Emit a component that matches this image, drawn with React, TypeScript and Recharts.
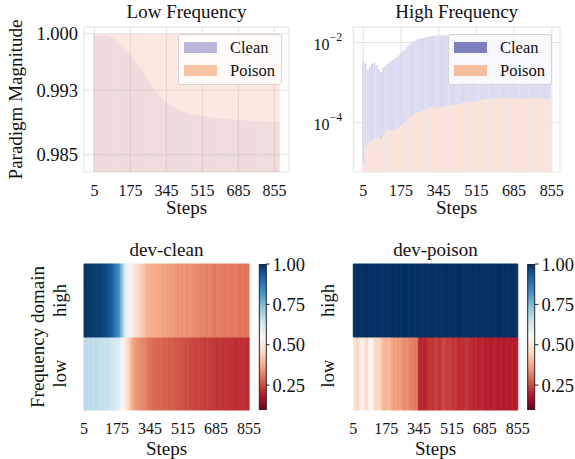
import React from 'react';
import {
  ComposedChart,
  Bar,
  XAxis,
  YAxis,
  CartesianGrid,
  ReferenceArea,
  Cell,
  Label
} from 'recharts';

const FONT = "'Liberation Serif', 'Times New Roman', serif";

// training steps (low-frequency run is a bit longer than the others)
const lowSteps = [
  5, 15, 25, 35, 45, 55, 65, 75, 85, 95, 105, 115, 125, 135, 145, 155, 165, 175, 185, 195, 205, 215,
  225, 235, 245, 255, 265, 275, 285, 295, 305, 315, 325, 335, 345, 355, 365, 375, 385, 395, 405, 415,
  425, 435, 445, 455, 465, 475, 485, 495, 505, 515, 525, 535, 545, 555, 565, 575, 585, 595, 605, 615,
  625, 635, 645, 655, 665, 675, 685, 695, 705, 715, 725, 735, 745, 755, 765, 775, 785, 795, 805, 815,
  825, 835, 845, 855, 865, 875
];
const highSteps = lowSteps.slice(0, 85);
const heatSteps = lowSteps.slice(0, 86);
const stepTicks = [5, 175, 345, 515, 685, 855];

// low frequency paradigm magnitude
const lowClean = [
  0.99985, 0.9998, 0.99978, 0.99975, 0.99972, 0.99975, 0.99978, 0.9997, 0.99955, 0.9994, 0.9992,
  0.99895, 0.9987, 0.9984, 0.99815, 0.9979, 0.99765, 0.9974, 0.9971, 0.99675, 0.9964, 0.996,
  0.99565, 0.9953, 0.9949, 0.9945, 0.99405, 0.99365, 0.9933, 0.99295, 0.9926, 0.99225, 0.992,
  0.9917, 0.99145, 0.9913, 0.9911, 0.99095, 0.9908, 0.99065, 0.99055, 0.99045, 0.99035, 0.99025,
  0.99015, 0.99005, 0.99, 0.98995, 0.9899, 0.98985, 0.9898, 0.98978, 0.98972, 0.9897, 0.98966,
  0.98963, 0.9896, 0.98958, 0.98955, 0.98952, 0.9895, 0.98947, 0.98944, 0.98942, 0.9894, 0.98937,
  0.98935, 0.98933, 0.98931, 0.98929, 0.98927, 0.98925, 0.98924, 0.98922, 0.98921, 0.9892, 0.98918,
  0.98917, 0.98916, 0.98915, 0.98914, 0.98913, 0.98912, 0.98911, 0.9891, 0.9891, 0.9891, 0.98909
];
const lowPoison = [
  0.99999, 0.99998, 0.99999, 1.0, 0.99999, 0.99998, 0.99999, 0.99999, 1.0, 0.99998, 0.99999,
  0.99999, 0.99998, 0.99999, 0.99999, 1.0, 0.99999, 0.99998, 0.99999, 0.99999, 0.99998, 0.99999,
  1.0, 0.99999, 0.99999, 0.99998, 0.99999, 1.0, 0.99999, 0.99998, 0.99999, 0.99999, 1.0, 0.99999,
  0.99998, 0.99999, 0.99999, 0.99999, 1.0, 0.99998, 0.99999, 0.99999, 0.99999, 0.99998, 1.0,
  0.99999, 0.99999, 0.99998, 0.99999, 0.99999, 1.0, 0.99999, 0.99998, 0.99999, 0.99999, 0.99999,
  1.0, 0.99998, 0.99999, 0.99999, 0.99999, 0.99998, 1.0, 0.99999, 0.99999, 0.99999, 0.99998,
  0.99999, 1.0, 0.99999, 0.99999, 0.99998, 0.99999, 0.99999, 1.0, 0.99999, 0.99998, 0.99999,
  0.99999, 0.99999, 1.0, 0.99998, 0.99999, 0.99999, 0.99999, 0.99998, 1.0, 0.99999
];

// high frequency paradigm magnitude (log scale)
const highClean = [
  3.55e-3, 3.0e-3, 2.1e-3, 2.5e-3, 3.0e-3, 3.2e-3, 2.75e-3, 2.2e-3, 1.85e-3, 2.35e-3, 2.6e-3,
  2.95e-3, 3.25e-3, 3.55e-3, 3.9e-3, 4.25e-3, 4.8e-3, 5.4e-3, 6.2e-3, 6.9e-3, 7.9e-3, 8.9e-3,
  1.0e-2, 1.1e-2, 1.17e-2, 1.23e-2, 1.29e-2, 1.32e-2, 1.35e-2, 1.41e-2, 1.45e-2, 1.46e-2, 1.48e-2,
  1.5e-2, 1.51e-2, 1.52e-2, 1.53e-2, 1.52e-2, 1.54e-2, 1.55e-2, 1.54e-2, 1.55e-2, 1.56e-2, 1.55e-2,
  1.56e-2, 1.57e-2, 1.56e-2, 1.57e-2, 1.58e-2, 1.57e-2, 1.58e-2, 1.58e-2, 1.59e-2, 1.58e-2, 1.59e-2,
  1.59e-2, 1.6e-2, 1.59e-2, 1.6e-2, 1.6e-2, 1.61e-2, 1.6e-2, 1.61e-2, 1.61e-2, 1.6e-2, 1.61e-2,
  1.62e-2, 1.61e-2, 1.62e-2, 1.61e-2, 1.62e-2, 1.62e-2, 1.63e-2, 1.62e-2, 1.62e-2, 1.63e-2, 1.62e-2,
  1.63e-2, 1.63e-2, 1.62e-2, 1.63e-2, 1.64e-2, 1.63e-2, 1.63e-2, 1.64e-2
];
const highPoison = [
  1.0e-5, 2.4e-5, 2.9e-5, 3.3e-5, 3.6e-5, 3.8e-5, 4.1e-5, 4.35e-5, 3.8e-5, 5.0e-5, 5.6e-5, 6.45e-5,
  6.6e-5, 6.3e-5, 6.45e-5, 6.9e-5, 7.6e-5, 8.3e-5, 9.5e-5, 1.07e-4, 1.2e-4, 1.38e-4, 1.51e-4,
  1.66e-4, 1.74e-4, 1.82e-4, 1.9e-4, 2.0e-4, 2.1e-4, 2.24e-4, 2.34e-4, 2.45e-4, 2.5e-4, 2.4e-4,
  2.3e-4, 2.4e-4, 2.5e-4, 2.57e-4, 2.63e-4, 2.7e-4, 2.75e-4, 2.8e-4, 2.9e-4, 2.95e-4, 3.0e-4,
  3.15e-4, 3.25e-4, 3.3e-4, 3.4e-4, 3.4e-4, 3.45e-4, 3.55e-4, 3.6e-4, 3.7e-4, 3.8e-4, 3.9e-4,
  3.95e-4, 3.95e-4, 4.0e-4, 3.95e-4, 4.0e-4, 4.0e-4, 3.98e-4, 4.0e-4, 4.02e-4, 4.0e-4, 4.0e-4,
  4.02e-4, 4.0e-4, 4.0e-4, 4.02e-4, 4.03e-4, 4.0e-4, 4.02e-4, 4.02e-4, 4.03e-4, 4.02e-4, 4.03e-4,
  4.03e-4, 4.02e-4, 4.03e-4, 4.04e-4, 4.03e-4, 4.03e-4, 4.04e-4
];

// heatmap rows (normalised deviation)
const cleanHigh = [
  0.99, 0.99, 0.98, 0.99, 0.98, 0.98, 0.98, 0.97, 0.98, 0.97, 0.97, 0.96, 0.95, 0.94, 0.93, 0.91,
  0.88, 0.85, 0.82, 0.76, 0.7, 0.62, 0.58, 0.56, 0.54, 0.52, 0.48, 0.47, 0.46, 0.44, 0.43, 0.42,
  0.4, 0.39, 0.39, 0.38, 0.39, 0.37, 0.38, 0.37, 0.37, 0.36, 0.37, 0.36, 0.36, 0.35, 0.36, 0.35,
  0.35, 0.34, 0.35, 0.34, 0.35, 0.34, 0.34, 0.35, 0.34, 0.33, 0.34, 0.33, 0.33, 0.32, 0.33, 0.32,
  0.32, 0.33, 0.32, 0.32, 0.31, 0.32, 0.32, 0.31, 0.32, 0.31, 0.31, 0.32, 0.31, 0.31, 0.31, 0.32,
  0.31, 0.3, 0.31, 0.31, 0.3, 0.31
];
const cleanLow = [
  0.67, 0.67, 0.66, 0.67, 0.66, 0.66, 0.67, 0.66, 0.66, 0.65, 0.66, 0.65, 0.65, 0.65, 0.63, 0.63,
  0.62, 0.61, 0.6, 0.57, 0.55, 0.52, 0.48, 0.45, 0.41, 0.38, 0.36, 0.35, 0.34, 0.34, 0.33, 0.33,
  0.32, 0.31, 0.3, 0.3, 0.29, 0.29, 0.29, 0.28, 0.29, 0.28, 0.28, 0.28, 0.27, 0.28, 0.27, 0.27,
  0.26, 0.27, 0.26, 0.26, 0.26, 0.25, 0.26, 0.25, 0.25, 0.25, 0.24, 0.25, 0.24, 0.24, 0.24, 0.23,
  0.24, 0.23, 0.23, 0.23, 0.23, 0.22, 0.23, 0.23, 0.22, 0.22, 0.23, 0.22, 0.22, 0.22, 0.22, 0.21,
  0.22, 0.22, 0.21, 0.22, 0.21, 0.21
];
const poisonHigh = [
  1.0, 0.99, 1.0, 1.0, 0.99, 1.0, 1.0, 1.0, 0.99, 1.0, 1.0, 0.99, 1.0, 1.0, 1.0, 0.99, 1.0, 1.0,
  0.99, 1.0, 1.0, 1.0, 0.99, 1.0, 1.0, 0.99, 1.0, 1.0, 1.0, 0.99, 1.0, 1.0, 0.99, 1.0, 1.0, 1.0,
  0.99, 1.0, 1.0, 0.99, 1.0, 1.0, 1.0, 0.99, 1.0, 1.0, 0.99, 1.0, 1.0, 1.0, 0.99, 1.0, 1.0, 0.99,
  1.0, 1.0, 1.0, 0.99, 1.0, 1.0, 0.99, 1.0, 1.0, 1.0, 0.99, 1.0, 1.0, 0.99, 1.0, 1.0, 1.0, 0.99,
  1.0, 1.0, 0.99, 1.0, 1.0, 1.0, 0.99, 1.0, 1.0, 0.99, 1.0, 1.0, 1.0, 0.99
];
const poisonLow = [
  0.5, 0.47, 0.44, 0.49, 0.53, 0.52, 0.48, 0.46, 0.53, 0.55, 0.52, 0.46, 0.45, 0.46, 0.44, 0.41,
  0.4, 0.39, 0.41, 0.39, 0.37, 0.36, 0.37, 0.35, 0.36, 0.35, 0.34, 0.33, 0.34, 0.33, 0.32, 0.32,
  0.31, 0.32, 0.21, 0.2, 0.21, 0.2, 0.21, 0.22, 0.23, 0.22, 0.23, 0.24, 0.23, 0.22, 0.24, 0.25,
  0.24, 0.23, 0.24, 0.23, 0.22, 0.23, 0.22, 0.21, 0.22, 0.21, 0.22, 0.23, 0.22, 0.21, 0.21, 0.2,
  0.21, 0.2, 0.2, 0.21, 0.2, 0.19, 0.2, 0.2, 0.19, 0.2, 0.2, 0.19, 0.19, 0.2, 0.19, 0.19, 0.2,
  0.19, 0.19, 0.2, 0.19, 0.19
];

const cbMin = 0.096;
const cbMax = 1.0;
const cbTicks = [0.25, 0.5, 0.75, 1.0];

// matplotlib RdBu
const rdbu = [
  '#67001f', '#b2182b', '#d6604d', '#f4a582', '#fddbc7', '#f7f7f7',
  '#d1e5f0', '#92c5de', '#4393c3', '#2166ac', '#053061'
];

function hexRgb(h: string) {
  return [parseInt(h.slice(1, 3), 16), parseInt(h.slice(3, 5), 16), parseInt(h.slice(5, 7), 16)];
}

function heatColor(v: number) {
  const t = Math.min(1, Math.max(0, (v - cbMin) / (cbMax - cbMin))) * 10;
  const i = Math.min(9, Math.floor(t));
  const f = t - i;
  const a = hexRgb(rdbu[i]);
  const b = hexRgb(rdbu[i + 1]);
  const c = a.map((x, k) => Math.round(x + (b[k] - x) * f));
  return `rgb(${c[0]},${c[1]},${c[2]})`;
}

const xTickStyle = { fontSize: 16, fill: '#111', fontFamily: FONT };
const yTickStyle = { fontSize: 18.5, fill: '#111', fontFamily: FONT };
const labelStyle = { fontSize: 19, fill: '#111', fontFamily: FONT };

const lowData = lowSteps.map((s, i) => ({ step: s, clean: lowClean[i], poison: lowPoison[i] }));
const highData = highSteps.map((s, i) => ({ step: s, clean: highClean[i], poison: highPoison[i] }));
const cbData = [{ name: 'cb', range: [cbMin, cbMax] }];

const PowTick = (props: any) => {
  const { x, y, payload } = props;
  const e = Math.round(Math.log10(payload.value));
  return (
    <text x={x} y={y + 7.5} textAnchor="end" fontFamily={FONT} fontSize={16} fill="#111">
      10
      <tspan dy={-9} fontSize={12}>
        {'\u2212' + Math.abs(e)}
      </tspan>
    </text>
  );
};

const RowTick = (props: any) => {
  const { x, y, payload } = props;
  return (
    <text
      x={x}
      y={y}
      dy="0.22em"
      transform={`rotate(-90 ${x} ${y})`}
      textAnchor="middle"
      fontFamily={FONT}
      fontSize={18.5}
      fill="#111"
    >
      {payload.value > 1 ? 'high' : 'low'}
    </text>
  );
};

const Title = ({ text, left, width, top }: { text: string; left: number; width: number; top: number }) => (
  <div
    style={{
      position: 'absolute',
      left,
      top,
      width,
      textAlign: 'center',
      fontFamily: FONT,
      fontSize: 19,
      lineHeight: '19px',
      color: '#111',
      whiteSpace: 'nowrap'
    }}
  >
    {text}
  </div>
);

const LegendBox = ({ left, top, cleanColor, poisonColor }: any) => (
  <div
    style={{
      position: 'absolute',
      left,
      top,
      width: 104,
      height: 51,
      boxSizing: 'border-box',
      border: '1px solid #d4d4d4',
      borderRadius: 3,
      background: 'rgba(255,255,255,0.8)',
      fontFamily: FONT,
      fontSize: 16.5,
      lineHeight: '16.5px',
      color: '#111'
    }}
  >
    <div style={{ position: 'absolute', left: 5, top: 7, width: 33, height: 11, background: cleanColor }} />
    <span style={{ position: 'absolute', left: 51, top: 4.5 }}>Clean</span>
    <div style={{ position: 'absolute', left: 5, top: 30, width: 33, height: 11, background: poisonColor }} />
    <span style={{ position: 'absolute', left: 51, top: 27.5 }}>Poison</span>
  </div>
);

const Heatmap = ({ left, width, yWidth, rightGap, labelGap, low, high, yLabel }: any) => {
  const data = heatSteps.map((s) => ({ step: s, low: 1, high: 1 }));
  return (
    <div style={{ position: 'absolute', left, top: 240 }}>
      <ComposedChart
        width={width}
        height={219}
        data={data}
        margin={{ top: 24, right: rightGap, bottom: 2, left: 0 }}
        barCategoryGap={0}
        barGap={0}
      >
        <XAxis
          xAxisId="num"
          dataKey="step"
          type="number"
          domain={[5, 855]}
          ticks={stepTicks}
          interval={0}
          tickLine={false}
          axisLine={false}
          tickSize={6}
          tickMargin={7}
          height={47}
          tick={xTickStyle}
        >
          <Label value="Steps" position="insideBottom" offset={2} style={labelStyle} />
        </XAxis>
        <XAxis xAxisId="cat" dataKey="step" type="category" height={0} hide />
        <YAxis
          type="number"
          domain={[0, 2]}
          ticks={[0.5, 1.5]}
          width={yWidth}
          tickLine={false}
          axisLine={false}
          tickSize={0}
          tickMargin={labelGap}
          tick={(p: any) => <RowTick {...p} />}
        >
          {yLabel && (
            <Label
              value={yLabel}
              angle={-90}
              position="insideLeft"
              offset={37.3}
              style={{ ...labelStyle, textAnchor: 'middle' }}
            />
          )}
        </YAxis>
        <Bar xAxisId="cat" dataKey="low" stackId="h" isAnimationActive={false}>
          {low.map((v: number, i: number) => (
            <Cell key={i} fill={heatColor(v)} stroke={heatColor(v)} strokeWidth={1} />
          ))}
        </Bar>
        <Bar xAxisId="cat" dataKey="high" stackId="h" isAnimationActive={false}>
          {high.map((v: number, i: number) => (
            <Cell key={i} fill={heatColor(v)} stroke={heatColor(v)} strokeWidth={1} />
          ))}
        </Bar>
        <ReferenceArea xAxisId="cat" fill="none" stroke="#222" strokeWidth={1.2} ifOverflow="visible" />
      </ComposedChart>
    </div>
  );
};

const Colorbar = ({ left, width, marginLeft, axisWidth, id }: any) => (
  <div style={{ position: 'absolute', left, top: 240 }}>
    <ComposedChart
      width={width}
      height={219}
      data={cbData}
      margin={{ top: 24, right: 0, bottom: 49, left: marginLeft }}
      barCategoryGap={0}
    >
      <defs>
        <linearGradient id={id} x1="0" y1="1" x2="0" y2="0">
          {rdbu.map((c, i) => (
            <stop key={i} offset={i / 10} stopColor={c} />
          ))}
        </linearGradient>
      </defs>
      <XAxis dataKey="name" type="category" height={0} hide />
      <YAxis
        orientation="right"
        type="number"
        domain={[cbMin, cbMax]}
        allowDataOverflow
        ticks={cbTicks}
        interval={0}
        width={axisWidth}
        tickSize={3.5}
        tickMargin={3}
        tickLine={{ stroke: '#222' }}
        axisLine={false}
        tick={yTickStyle}
        tickFormatter={(v: number) => v.toFixed(2)}
      />
      <Bar dataKey="range" fill={`url(#${id})`} stroke="#222" strokeWidth={1} isAnimationActive={false} />
    </ComposedChart>
  </div>
);

export default function App() {
  return (
    <div style={{ position: 'absolute', left: 0, top: 0, width: 575, height: 459, background: '#fff' }}>
      {/* Low Frequency */}
      <div style={{ position: 'absolute', left: 0, top: 0 }}>
        <ComposedChart width={295} height={230} data={lowData} margin={{ top: 27, right: 6, bottom: 13, left: 0 }}>
          <CartesianGrid xAxisId="a" stroke="#e3e3e3" />
          <XAxis
            xAxisId="a"
            type="number"
            dataKey="step"
            domain={[-44, 924]}
            allowDataOverflow
            ticks={stepTicks}
            interval={0}
            tickLine={false}
            axisLine={false}
            tickSize={6}
            tickMargin={7}
            height={45}
            tick={xTickStyle}
          >
            <Label value="Steps" position="insideBottom" offset={3} style={labelStyle} />
          </XAxis>
          <XAxis xAxisId="b" type="number" dataKey="step" domain={[-44, 924]} allowDataOverflow height={0} hide />
          <YAxis
            type="number"
            domain={[0.98286, 1.00084]}
            allowDataOverflow
            ticks={[0.985, 0.993, 1.0]}
            interval={0}
            tickFormatter={(v: number) => v.toFixed(3)}
            width={84}
            tickLine={false}
            axisLine={false}
            tickSize={4}
            tickMargin={2}
            tick={yTickStyle}
          >
            <Label
              value="Paradigm Magnitude"
              angle={-90}
              position="insideLeft"
              offset={15.3}
              style={{ ...labelStyle, textAnchor: 'middle' }}
            />
          </YAxis>
          <Bar xAxisId="b" dataKey="poison" barSize={2.1} fill="#f4a582" fillOpacity={0.25} isAnimationActive={false} />
          <Bar xAxisId="a" dataKey="clean" barSize={2.1} fill="#8080c0" fillOpacity={0.1} isAnimationActive={false} />
          <ReferenceArea xAxisId="a" fill="none" stroke="#222" strokeWidth={1.2} ifOverflow="visible" />
        </ComposedChart>
      </div>

      {/* High Frequency */}
      <div style={{ position: 'absolute', left: 290, top: 0 }}>
        <ComposedChart width={285} height={230} data={highData} margin={{ top: 27, right: 15, bottom: 13, left: 0 }}>
          <CartesianGrid xAxisId="a" stroke="#e3e3e3" />
          <XAxis
            xAxisId="a"
            type="number"
            dataKey="step"
            domain={[-40, 892]}
            allowDataOverflow
            ticks={stepTicks}
            interval={0}
            tickLine={false}
            axisLine={false}
            tickSize={6}
            tickMargin={7}
            height={45}
            tick={xTickStyle}
          >
            <Label value="Steps" position="insideBottom" offset={3} style={labelStyle} />
          </XAxis>
          <XAxis xAxisId="b" type="number" dataKey="step" domain={[-40, 892]} allowDataOverflow height={0} hide />
          <YAxis
            type="number"
            scale="log"
            domain={[5.9e-6, 0.0245]}
            allowDataOverflow
            ticks={[1e-4, 1e-2]}
            interval={0}
            width={63.3}
            tickLine={false}
            axisLine={false}
            tickSize={0}
            tickMargin={11}
            tick={(p: any) => <PowTick {...p} />}
          />
          <Bar xAxisId="a" dataKey="clean" barSize={2.1} fill="#d8d8ef" isAnimationActive={false} />
          <Bar xAxisId="b" dataKey="poison" barSize={2.1} fill="#fbe4d9" isAnimationActive={false} />
          <ReferenceArea xAxisId="a" fill="none" stroke="#222" strokeWidth={1.2} ifOverflow="visible" />
        </ComposedChart>
      </div>

      <Title text="Low Frequency" left={84} width={205} top={2.4} />
      <Title text="High Frequency" left={353.3} width={206.7} top={2.4} />
      <LegendBox left={178} top={34} cleanColor="#bab6dc" poisonColor="#f6c3a5" />
      <LegendBox left={448} top={34} cleanColor="#7f7fc0" poisonColor="#f5bf9f" />

      <Heatmap
        left={0}
        width={262}
        yWidth={84}
        rightGap={13}
        labelGap={22}
        low={cleanLow}
        high={cleanHigh}
        yLabel="Frequency domain"
      />
      <Colorbar left={250} width={60} marginLeft={9.3} axisWidth={44} id="rdbu-clean" />
      <Heatmap
        left={290}
        width={245}
        yWidth={63.3}
        rightGap={17.3}
        labelGap={23}
        low={poisonLow}
        high={poisonHigh}
      />
      <Colorbar left={518} width={57} marginLeft={9.7} axisWidth={40} id="rdbu-poison" />

      <Title text="dev-clean" left={84} width={165} top={240.1} />
      <Title text="dev-poison" left={353.3} width={164.4} top={240.1} />
    </div>
  );
}
